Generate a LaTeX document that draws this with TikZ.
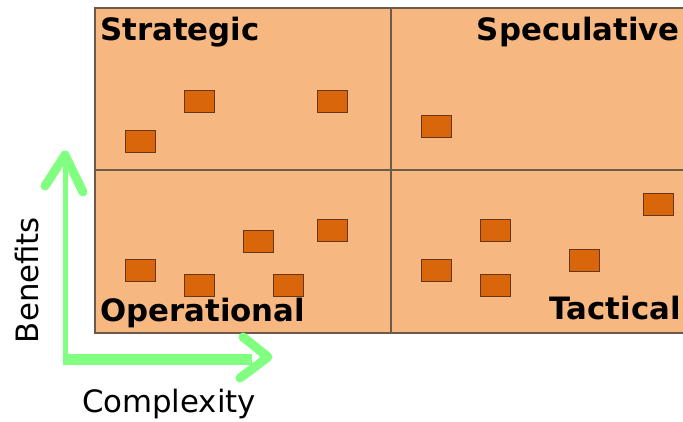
\documentclass[tikz,border=0pt]{standalone}
\usepackage{fontspec}
\setmainfont{DejaVu Sans}
\begin{document}
\begin{tikzpicture}[x=1pt,y=-1pt,
  quad/.style={fill=quadfill,draw=gridline,line width=1.2pt},
  item/.style={draw=itemline,fill=itemfill,line width=1pt,minimum width=30pt,minimum height=22pt,inner sep=0pt,anchor=north west},
  title/.style={font=\bfseries\fontsize{30.8}{30}\selectfont,inner sep=0pt},
  axislabel/.style={font=\fontsize{30.8}{30}\selectfont,inner sep=0pt},
  axis/.style={draw=axisgreen,line join=round}]
\definecolor{quadfill}{RGB}{247,183,128}
\definecolor{gridline}{RGB}{110,90,75}
\definecolor{itemfill}{RGB}{218,102,12}
\definecolor{itemline}{RGB}{100,55,25}
\definecolor{axisgreen}{RGB}{128,255,128}
\useasboundingbox (0,0) rectangle (683,421);
\clip (0,0) rectangle (683,421);
% quadrants
\path[quad] (95,8) rectangle (391,170);
\path[quad] (391,8) rectangle (700,170);
\path[quad] (95,170) rectangle (391,333);
\path[quad] (391,170) rectangle (700,333);
% titles
\node[title,anchor=base west] (tstr) at (100,40) {Strategic};
\node[title,anchor=base east] (tspe) at (680,40) {Speculative};
\node[title,anchor=base west] (tope) at (100,321) {Operational};
\node[title,anchor=base east] (ttac) at (681,319) {Tactical};
% items
\node[item] (s1) at (125,130) {};
\node[item] (s2) at (184,90) {};
\node[item] (s3) at (317,90) {};
\node[item] (p1) at (421,115) {};
\node[item] (o1) at (125,259) {};
\node[item] (o2) at (184,274) {};
\node[item] (o3) at (243,230) {};
\node[item] (o4) at (273,274) {};
\node[item] (o5) at (317,219) {};
\node[item] (c1) at (421,259) {};
\node[item] (c2) at (480,219) {};
\node[item] (c3) at (480,274) {};
\node[item] (c4) at (569,249) {};
\node[item] (c5) at (643,193) {};
% axes
\coordinate (org) at (65,364);
\coordinate (ytip) at (65,155);
\coordinate (xtip) at (268,357);
\path[axis,line width=5pt] (org) -- (ytip);
\path[axis,line width=9pt,line cap=round] (45,186) -- (ytip) -- (83,192);
\path[axis,line width=11pt] (62.5,359) -- (252,359);
\path[axis,line width=9pt,line cap=round] (243,337) -- (xtip) -- (240,378);
% axis labels
\node[axislabel,rotate=90,anchor=base] (ben) at (38,280) {Benefits};
\node[axislabel,anchor=base] (com) at (169,412) {Complexity};
\end{tikzpicture}
\end{document}
